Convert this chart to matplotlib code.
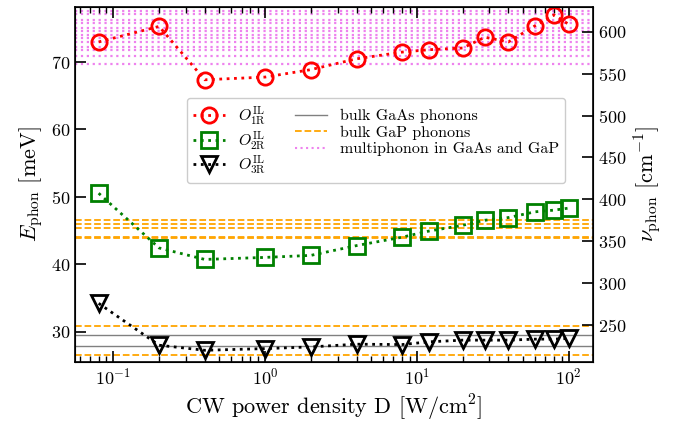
import numpy as np
import matplotlib
matplotlib.use("Agg")
import matplotlib.pyplot as plt

plt.rcParams.update({"font.family": "serif", "font.serif": ["cmr10"],
                     "mathtext.fontset": "cm", "axes.formatter.use_mathtext": True,
                     "font.size": 14, "axes.unicode_minus": False})

MEV_TO_CM = 8.0655

power = [0.08, 0.2, 0.4, 1, 2, 4, 8, 12, 20, 28, 40, 60, 80, 100]
o1r = [72.9, 75.2, 67.3, 67.7, 68.8, 70.4, 71.4, 71.75, 72.0, 73.6, 72.9, 75.3, 76.9, 75.5]
o2r = [50.5, 42.4, 40.7, 41.0, 41.3, 42.75, 44.0, 44.9, 45.75, 46.5, 46.9, 47.75, 48.0, 48.3]
o3r = [34.2, 28.0, 27.25, 27.5, 27.75, 28.15, 28.1, 28.5, 28.75, 28.75, 28.75, 28.9, 28.9, 29.0]

gaas_lines = [29.5, 27.85]
gap_lines = [46.48, 45.88, 45.28, 43.95, 43.8, 30.8, 26.5]
multi_lines = [77.5, 76.97, 76.22, 75.63, 74.97, 74.48, 73.88, 73.54, 72.88,
               72.19, 71.75, 70.79, 69.7]

fig, ax = plt.subplots(figsize=(6.83, 4.26), dpi=100)
fig.subplots_adjust(left=0.11, right=0.868, top=0.984, bottom=0.15)

for v in gaas_lines:
    ax.axhline(v, color="gray", lw=1, zorder=1)
for v in gap_lines:
    ax.axhline(v, color="orange", lw=1.3, ls="--", zorder=1)
for v in multi_lines:
    ax.axhline(v, color="violet", lw=1.6, ls=":", zorder=1)

kw = dict(ls=":", lw=2, ms=11, mfc="none", mew=2, zorder=3)
ax.plot(power, o1r, marker="o", color="red", label=r"$O^{\mathrm{IL}}_{\mathrm{1R}}$", **kw)
ax.plot(power, o2r, marker="s", color="green", label=r"$O^{\mathrm{IL}}_{\mathrm{2R}}$", **kw)
ax.plot(power, o3r, marker="v", color="black", label=r"$O^{\mathrm{IL}}_{\mathrm{3R}}$", **kw)
ax.plot([], [], color="gray", lw=1, label="bulk GaAs phonons")
ax.plot([], [], color="orange", lw=1.3, ls="--", label="bulk GaP phonons")
ax.plot([], [], color="violet", lw=1.5, ls=":", label="multiphonon in GaAs and GaP")

ax.set_xscale("log")
ax.set_xlim(0.056, 144)
ax.set_ylim(25.5, 78.1)
ax.set_yticks([30, 40, 50, 60, 70])
ax.set_xlabel(r"CW power density D [W/cm$^2$]", fontsize=16)
ax.set_ylabel(r"$E_{\mathrm{phon}}$ [meV]", fontsize=16)
ax.tick_params(which="both", direction="in", top=True)
ax.tick_params(which="major", length=8, width=1.2, labelsize=13)
ax.tick_params(which="minor", length=4, width=1)
for s in ax.spines.values():
    s.set_linewidth(1.2)

ax2 = ax.twinx()
ax2.set_ylim(25.5 * MEV_TO_CM, 78.1 * MEV_TO_CM)
ax2.set_yticks(np.arange(250, 601, 50))
ax2.set_ylabel(r"$\nu_{\mathrm{phon}}$ [cm$^{-1}$]", fontsize=16)
ax2.tick_params(direction="in", length=8, width=1.2, labelsize=13)

leg = ax.legend(ncol=2, loc="upper left", bbox_to_anchor=(0.216, 0.744),
                borderaxespad=0, fontsize=11.5, handlelength=2.0, columnspacing=1.8,
                labelspacing=0.15, framealpha=1)
leg.set_zorder(5)

fig.savefig("out.png")
